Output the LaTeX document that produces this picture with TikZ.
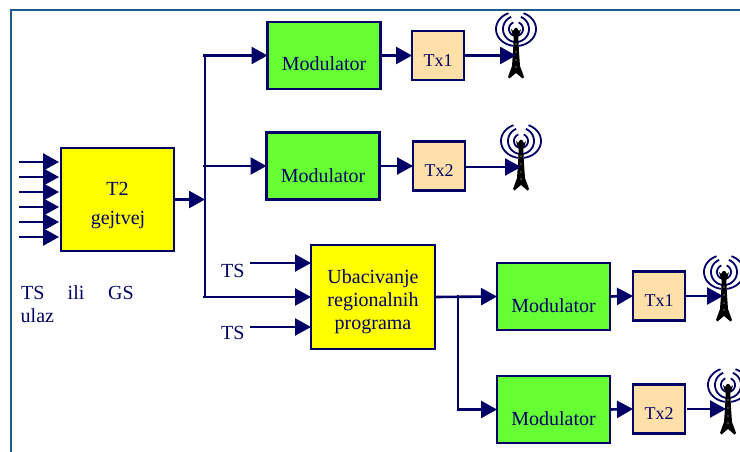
\documentclass[tikz,border=0pt]{standalone}
\usepackage{fontspec}
\setmainfont{Liberation Serif}
\usetikzlibrary{arrows.meta,calc}
\definecolor{navy}{HTML}{000066}
\definecolor{framec}{HTML}{1F5A8C}
\definecolor{modgreen}{HTML}{66FF33}
\definecolor{txpeach}{HTML}{FFE0A8}
\definecolor{boxyellow}{HTML}{FFFF00}
\tikzset{
  x=1pt,y=-1pt,
  box/.style={draw=navy,line width=2.2pt,inner sep=0pt,outer sep=0pt},
  t2box/.style={box,fill=boxyellow},
  modbox/.style={box,fill=modgreen,minimum width=113pt,minimum height=67pt},
  txbox/.style={box,fill=txpeach,minimum width=52pt,minimum height=49pt},
  lab/.style={text=navy,font=\fontsize{20}{23}\selectfont,inner sep=0pt,align=center},
  txlab/.style={text=navy,font=\fontsize{18}{21}\selectfont,inner sep=0pt},
  wire/.style={draw=navy,line width=2.6pt},
  arr/.style={wire,-{Triangle[length=16pt,width=17pt]}},
  pics/tower/.style={code={
    \foreach \r/\k in {7/1,13/1,20/.85}{
      \draw[navy,line width=1.8pt,smooth,domain=112:262,samples=30] plot ({\r*cos(\x)},{-50+\k*\r*sin(-\x)+1});
      \draw[navy,line width=1.8pt,smooth,domain=68:-82,samples=30] plot ({\r*cos(\x)},{-50+\k*\r*sin(-\x)+1});
    }
    \fill[black] (-2.2,-43) -- (2.2,-43) -- (3,-26) -- (4,-12) -- (8,-1) -- (6.5,0.5) -- (0,-5) -- (-6.5,0.5) -- (-8,-1) -- (-4,-12) -- (-3,-26) -- cycle;
    \fill[black] (-5,-49) -- (-3,-47) -- (-1,-50) -- (1,-50) -- (3,-47) -- (5,-49) -- (3,-42) -- (-3,-42) -- cycle;
    \foreach \h in {-34,-26,-18,-11}{ \fill[white] (0,\h) circle[radius=.7]; }
  }}
}
\begin{document}
\begin{tikzpicture}
\useasboundingbox (0,0) rectangle (740,452);
\clip (0,0) rectangle (740,452);
\draw[framec,line width=2pt] (10.5,452) -- (10.5,10.5) -- (740,10.5);

\node[t2box,minimum width=113pt,minimum height=103pt] (t2) at (117.5,199.5) {};
\node[lab] (t2a) at (117.5,189) {T2};
\node[lab] (t2b) at (118,220) {gejtvej};

\node[modbox] (m1) at (324,55.5) {};
\node[lab] (m1t) at (324,63.5) {Modulator};
\node[modbox] (m2) at (323,166) {};
\node[lab] (m2t) at (323,175.5) {Modulator};
\node[modbox] (m3) at (553.5,296.5) {};
\node[lab] (m3t) at (553.5,305.5) {Modulator};
\node[modbox] (m4) at (553.5,409.5) {};
\node[lab] (m4t) at (553.5,418.5) {Modulator};

\node[txbox] (x1) at (438,55.5) {};
\node[txlab] (x1t) at (438,61) {Tx1};
\node[txbox] (x2) at (439,166) {};
\node[txlab] (x2t) at (439,170.5) {Tx2};
\node[txbox] (x3) at (659,296) {};
\node[txlab] (x3t) at (659,301) {Tx1};
\node[txbox] (x4) at (659,409) {};
\node[txlab] (x4t) at (659,414) {Tx2};

\node[t2box,minimum width=124pt,minimum height=104pt] (ub) at (373,297) {};
\node[lab] (ubt) at (373,302) {Ubacivanje\\regionalnih\\programa};

\node[lab,anchor=west] (tsa) at (221,271) {TS};
\node[lab,anchor=west] (tsb) at (221,333) {TS};
\node[lab,anchor=west] (gs1) at (21,293) {TS};
\node[lab,anchor=west] (gs2) at (67.5,293) {ili};
\node[lab,anchor=west] (gs3) at (108,293) {GS};
\node[lab,anchor=west] (gs4) at (20.5,316) {ulaz};

% input arrows
\foreach \n/\y in {1/162,2/177,3/192,4/207,5/222,6/237}{
  \coordinate (i\n) at (19,\y);
  \draw[arr,shorten >=2pt] (i\n) -- (t2.west |- i\n);
}
% bus
\coordinate (bj) at (205,199.5);
\coordinate (bt) at (205,55.5);
\coordinate (bm) at (205,166);
\coordinate (bb) at (205,297);
\draw[arr] (t2.east) -- (bj);
\draw[wire] (bt) -- (bb);
\coordinate (bt0) at (203,55.5);
\coordinate (bm0) at (203,166);
\coordinate (bb0) at (203,297);
\draw[arr] (bt0) -- (m1.west);
\draw[arr] (bm0) -- (m2.west);
\draw[arr] (bb0) -- (ub.west);
\coordinate (tsa0) at (250,263);
\coordinate (tsb0) at (250,327);
\draw[arr] (tsa0) -- (ub.west |- tsa0);
\draw[arr] (tsb0) -- (ub.west |- tsb0);
% second stage
\coordinate (rj) at (458,297);
\coordinate (rt) at (458,295);
\coordinate (rb) at (458,409.5);
\draw[arr] (ub.east) -- (m3.west);
\draw[wire] (rt) -- (rb);
\draw[arr] ($(rb)+(-1,0)$) -- (m4.west);
% modulators to transmitters
\draw[arr] (m1.east) -- (x1.west);
\draw[arr] (m2.east) -- (x2.west);
\draw[arr] (m3.east) -- (x3.west);
\draw[arr] (m4.east) -- (x4.west);
% towers
\pic (t1) at (516,78) {tower};
\pic (t2p) at (521,190) {tower};
\pic (t3) at (724,321) {tower};
\pic (t4) at (728,434) {tower};
\coordinate (a1) at (516,55.5);
\coordinate (a2) at (521,167);
\coordinate (a3) at (723,296);
\coordinate (a4) at (726,409);
\draw[arr] (x1.east) -- (a1);
\draw[arr] ($(x2.east |- a2)+(1,0)$) -- (a2);
\draw[arr] (x3.east) -- (a3);
\draw[arr] ($(x4.east |- a4)+(2,0)$) -- (a4);
\end{tikzpicture}
\end{document}
